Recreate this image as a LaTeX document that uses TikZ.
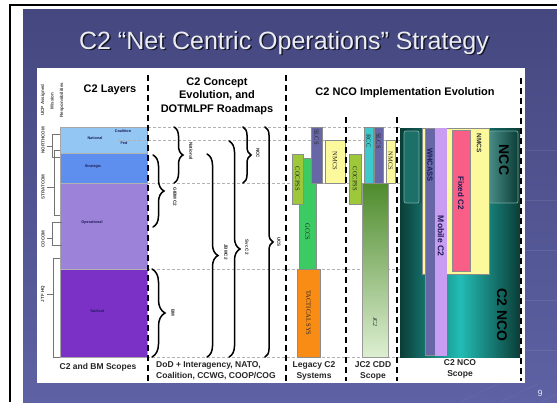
\documentclass[tikz,border=0pt]{standalone}
\usepackage{fontspec}
\setmainfont{Liberation Sans}
\newfontfamily\boxfont{Liberation Serif}
\usetikzlibrary{decorations.pathreplacing}

\definecolor{slideA}{HTML}{45487F}
\definecolor{slideB}{HTML}{5E61A3}
\definecolor{layNat}{HTML}{93C6F3}
\definecolor{layStr}{HTML}{5F8FEE}
\definecolor{layOps}{HTML}{9C82D8}
\definecolor{layTac}{HTML}{7B30C6}
\definecolor{ygreen}{HTML}{9CC83A}
\definecolor{gccs}{HTML}{3CCB62}
\definecolor{slate}{HTML}{6767A8}
\definecolor{paleY}{HTML}{FCF89C}
\definecolor{cyanB}{HTML}{3CCACC}
\definecolor{orng}{HTML}{F98C14}
\definecolor{jcTop}{HTML}{4E8B2C}
\definecolor{jcBot}{HTML}{DDEFD2}
\definecolor{tealD}{HTML}{0B3D37}
\definecolor{tealM}{HTML}{22BDB5}
\definecolor{tealP}{HTML}{1C7068}
\definecolor{pinkF}{HTML}{F85E86}
\definecolor{lavM}{HTML}{C99DF2}
\definecolor{navyT}{HTML}{1C1C55}
\definecolor{titleT}{HTML}{ECECF4}

\tikzset{
  hdr/.style={font=\fontsize{11}{13.5}\selectfont\bfseries, text=black, align=center, inner sep=0pt},
  foot/.style={font=\fontsize{8.5}{11}\selectfont\bfseries, text=black!85, align=center, inner sep=0pt},
  minitext/.style={font=\fontsize{4.5}{5}\selectfont\bfseries, text=black!75, inner sep=0pt},
  laytext/.style={font=\fontsize{3.8}{4}\selectfont\bfseries, text=navyT, inner sep=0pt},
  boxlab/.style={font=\boxfont\fontsize{6.5}{7}\selectfont, text=black!85, rotate=-90, inner sep=0pt},
  bracelab/.style={font=\fontsize{4.5}{5}\selectfont\bfseries, text=black!85, rotate=-90, inner sep=0pt},
  bigsys/.style={font=\fontsize{8}{9}\selectfont\bfseries, text=navyT, rotate=-90, inner sep=0pt},
  ncolab/.style={font=\fontsize{14}{15}\selectfont\bfseries, text=black, rotate=-90, inner sep=0pt},
  divider/.style={line width=1.8pt, dash pattern=on 6pt off 4pt},
  gridline/.style={draw=gray!60, line width=0.6pt, dash pattern=on 3pt off 2pt},
  sysbox/.style={draw=black!45, line width=0.4pt},
  cmdline/.style={draw=black!55, line width=0.5pt},
  brc/.style={decorate, line width=1.5pt, line cap=round},
}

\begin{document}
\begin{tikzpicture}[x=1pt,y=-1pt]
\useasboundingbox (0,0) rectangle (557,402);
\fill[white] (0,0) rectangle (557,402);

% page frame and slide background
\draw[black, line width=2.6pt] (10,402) -- (10,5) -- (557,5);
\shade[top color=slideA, bottom color=slideB] (23,9) rectangle (557,402);
\foreach \yy in {150,200,250,300,350}
  \draw[white, opacity=0.08, line width=0.5pt] (525,\yy) -- (557,\yy);
\foreach \xx in {460,500,540}
  \draw[white, opacity=0.07, line width=0.5pt] (\xx,402) -- (\xx+40,383);

% title
\node[font=\fontsize{25}{28}\selectfont, text=black!70!slideA, anchor=base] (titleshadow) at (285.5,50.5) {C2 “Net Centric Operations” Strategy};
\node[font=\fontsize{25}{28}\selectfont, text=titleT, anchor=base] (title) at (284,49) {C2 “Net Centric Operations” Strategy};

% white panel
\fill[white] (37,68) rectangle (525,383);

% page number
\node[font=\fontsize{9}{10}\selectfont, text=white!85!slideB] (pagenum) at (540,393) {9};

% ---------------- C2 layers ----------------
\fill[layNat] (60,127) rectangle (147,153);
\fill[layStr] (60,153) rectangle (147,183);
\fill[layOps] (60,183) rectangle (147,269);
\fill[layTac] (60,269) rectangle (147,357);
\draw[black!35, line width=0.4pt] (60,127) rectangle (147,357);
\draw[black!30, line width=0.3pt] (60,153) -- (147,153) (60,183) -- (147,183) (60,269) -- (147,269);

\node[laytext] (lnat) at (95,138) {National};
\node[laytext] (lcoal) at (123,131) {Coalition};
\node[laytext] (lfed) at (124,143) {Fed};
\node[laytext] (lstr) at (93,167) {Strategic};
\node[laytext] (lops) at (92,223) {Operational};
\node[laytext] (ltac) at (97,311) {Tactical};

% mission responsibility labels
\node[minitext, rotate=90] (ucpa) at (43,100) {UCP Assigned};
\node[minitext, rotate=90] (ucpb) at (52,101) {Mission};
\node[minitext, rotate=90] (ucpc) at (62,100) {Responsibilities};

\node[minitext, rotate=90] (north) at (43,140) {NORTHCOM};
\node[minitext, rotate=90] (strat) at (43,187) {STRATCOM};
\node[minitext, rotate=90] (cocom) at (43,239) {COCOM};
\node[minitext, rotate=90] (jtf) at (43,294) {JTF HQ};

\draw[cmdline] (60,134) -- (52,134) -- (52,157) -- (60,157);
\draw[cmdline] (47,146) -- (52,146);
\draw[cmdline] (60,150) -- (54,150) -- (54,215) -- (60,215);
\draw[cmdline] (47,187) -- (54,187);
\draw[cmdline] (62,222) -- (52,222) -- (52,245) -- (62,245);
\draw[cmdline] (47,238) -- (52,238);
\draw[cmdline] (60,258) -- (53,258) -- (53,357) -- (60,357);
\draw[cmdline] (47,294) -- (53,294);

\node[hdr] (h1) at (110,90) {C2 Layers};
\node[foot] (f1) at (98,367) {C2 and BM Scopes};

% ---------------- grid lines ----------------
\draw[gridline] (148,127) -- (400,127);
\draw[gridline] (118,140) -- (400,140);
\draw[gridline] (147,183) -- (400,183);
\draw[gridline] (147,269) -- (400,269);
\draw[gridline] (147,357) -- (400,357);

% ---------------- concept braces ----------------
\draw[brc, decoration={brace, amplitude=9pt}] (174,127) -- (174,183);
\node[bracelab] (bA) at (191,151) {National};
\draw[brc, decoration={brace, amplitude=11pt}] (153,155) -- (153,227);
\node[bracelab] (bB) at (175,197) {GIBM C2};
\draw[brc, decoration={brace, amplitude=13pt}] (152,269) -- (152,357);
\node[bracelab] (bE) at (173,313) {BM};
\draw[brc, decoration={brace, amplitude=11pt}] (207,154) -- (207,357);
\node[bracelab] (bC) at (226,252) {JBMC2};
\draw[brc, decoration={brace, amplitude=11pt}] (229,141) -- (229,357);
\node[bracelab] (bD) at (247,247) {Svc C2};
\draw[brc, decoration={brace, amplitude=8pt}] (243,127) -- (243,183);
\node[bracelab] (bF) at (258,153) {NCC};
\draw[brc, decoration={brace, amplitude=8pt}] (265,127) -- (265,357);
\node[bracelab] (bG) at (279,242) {UCS};

\node[hdr] (h2) at (217,96) {C2 Concept\\Evolution, and\\DOTMLPF Roadmaps};
\node[foot, align=left, anchor=north west] (f2) at (156,361) {DoD + Interagency, NATO,\\Coalition, CCWG, COOP/COG};

% ---------------- legacy C2 systems ----------------
\fill[gccs] (299,158) rectangle (316,269);
\draw[sysbox] (299,158) rectangle (316,269);
\fill[ygreen] (292,154) rectangle (303,204);
\draw[sysbox] (292,154) rectangle (303,204);
\fill[slate] (311,127) rectangle (322,183);
\draw[sysbox] (311,127) rectangle (322,183);
\fill[paleY] (325,140) rectangle (345,183);
\draw[sysbox] (325,140) rectangle (345,183);
\fill[orng] (297,269) rectangle (320,357);
\draw[sysbox] (297,269) rectangle (320,357);

\node[boxlab] (s1) at (297.5,179) {COCPSS};
\node[boxlab] (s2) at (307.5,232) {GCCS};
\node[boxlab] (s3) at (316.5,137) {SLCS};
\node[boxlab] (s4) at (335,161) {NMCS};
\node[boxlab] (s5) at (308.5,313) {TACTICAL SYS};
\node[foot] (f3) at (314,371) {Legacy C2\\Systems};

% ---------------- JC2 CDD scope ----------------
\shade[top color=jcTop, bottom color=jcBot] (362,183) rectangle (388,357);
\draw[sysbox, draw=black!40] (362,183) rectangle (388,357);
\fill[ygreen] (349,154) rectangle (361,204);
\draw[sysbox] (349,154) rectangle (361,204);
\fill[cyanB] (364,127) rectangle (373,183);
\draw[sysbox] (364,127) rectangle (373,183);
\fill[slate] (374,127) rectangle (383,183);
\draw[sysbox] (374,127) rectangle (383,183);
\fill[paleY] (386,140) rectangle (395,183);
\draw[sysbox] (386,140) rectangle (395,183);

\node[boxlab] (j1) at (355,179) {COCPSS};
\node[boxlab] (j2) at (368.5,141) {RCC};
\node[boxlab] (j3) at (378.5,141) {SLCS};
\node[boxlab] (j4) at (390.5,161) {NMCS};
\node[boxlab, font=\boxfont\itshape\fontsize{6}{7}\selectfont] (j5) at (375,322) {JC2};
\node[foot] (f4) at (373,371) {JC2 CDD\\Scope};

% ---------------- C2 NCO scope ----------------
\shade[left color=tealD, right color=tealD, middle color=tealM] (400,128) rectangle (520,357);
\fill[tealD, opacity=0.35] (400,128) rectangle (520,203);
\draw[tealP!60!white, line width=0.7pt, fill=tealP, rounded corners=2pt] (404,131) rectangle (419,203);
\shade[left color=tealP!80!white, right color=tealD, rounded corners=2pt] (489,131) rectangle (518,203);
\draw[tealP!60!white, line width=0.7pt, rounded corners=2pt] (489,131) rectangle (518,203);

\fill[paleY] (422,128) rectangle (489,274);
\draw[sysbox] (422,128) rectangle (489,274);
\fill[slate] (425,128) rectangle (435,355);
\draw[sysbox] (425,128) rectangle (435,355);
\fill[lavM] (435,128) rectangle (447,356);
\fill[pinkF] (452,130) rectangle (470,271);
\draw[sysbox] (452,130) rectangle (470,271);

\node[bigsys, font=\fontsize{7.5}{8}\selectfont\bfseries, text=navyT] (n1) at (430,165) {WHCASS};
\node[bigsys, font=\fontsize{8.5}{9}\selectfont\bfseries] (n2) at (441,236) {Mobile C2};
\node[bigsys] (n3) at (461,193) {Fixed C2};
\node[bigsys, font=\fontsize{6.5}{7}\selectfont\bfseries, text=black!80] (n4) at (479,143) {NMCS};
\node[ncolab] (n5) at (504,160) {NCC};
\node[ncolab] (n6) at (502,315) {C2 NCO};

\node[hdr] (h3) at (405,93) {C2 NCO Implementation Evolution};
\node[foot] (f5) at (460,369) {C2 NCO\\Scope};

% ---------------- column dividers ----------------
\draw[divider] (148,75) -- (148,381);
\draw[divider] (286,75) -- (286,381);
\draw[divider] (346,117) -- (346,381);
\draw[divider] (397,117) -- (397,381);
\draw[divider] (521,78) -- (521,381);
\end{tikzpicture}
\end{document}
